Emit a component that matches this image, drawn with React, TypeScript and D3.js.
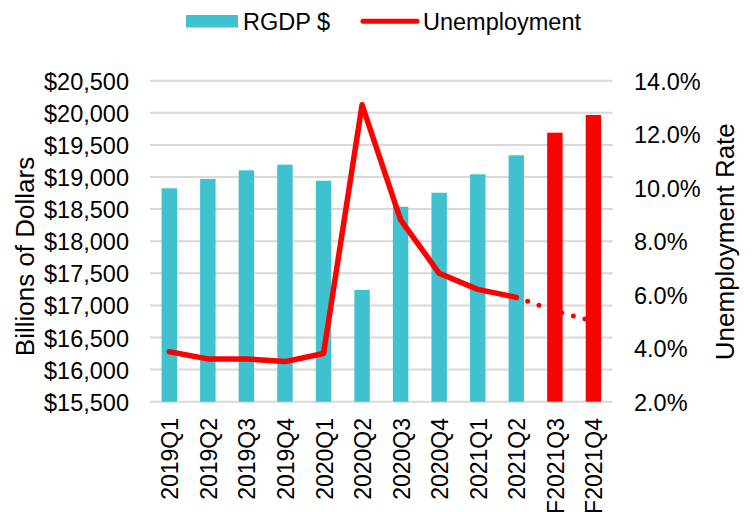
import React from "react";
import * as d3 from "d3";

const categories = ["2019Q1", "2019Q2", "2019Q3", "2019Q4", "2020Q1", "2020Q2", "2020Q3", "2020Q4", "2021Q1", "2021Q2", "F2021Q3", "F2021Q4"];
const rgdp = [18824, 18969, 19104, 19192, 18942, 17240, 18537, 18755, 19042, 19338, 19690, 19966];
const unemployment = [3.87, 3.6, 3.6, 3.5, 3.8, 13.1, 8.8, 6.8, 6.2, 5.9, 5.4, 5.0];
const forecast = [false, false, false, false, false, false, false, false, false, false, true, true];
const leftTicks = [15500, 16000, 16500, 17000, 17500, 18000, 18500, 19000, 19500, 20000, 20500];
const rightTicks = [2, 4, 6, 8, 10, 12, 14];

const W = 754, H = 512;
const plotLeft = 150, plotRight = 612.7, plotTop = 80.7, plotBottom = 401.7;
const FONT = "'Liberation Sans', Arial, sans-serif";
const TEAL = "#40C1D0";
const RED = "#FF0000";
const GRID = "#D9D9D9";

export default function App() {
  const x = d3.scaleBand<string>().domain(categories).range([plotLeft, plotRight]).paddingInner(0.6).paddingOuter(0.3);
  const yL = d3.scaleLinear().domain([15500, 20500]).range([plotBottom, plotTop]);
  const yR = d3.scaleLinear().domain([2, 14]).range([plotBottom, plotTop]);
  const cx = (c: string) => (x(c) as number) + x.bandwidth() / 2;
  const fmtL = (v: number) => "$" + d3.format(",")(v);
  const fmtR = (v: number) => d3.format(".1f")(v) + "%";

  const pts = categories.map((c, i) => [cx(c), yR(unemployment[i])] as [number, number]);
  const line = d3.line();
  const solid = line(pts.slice(0, 10)) as string;
  const dotted = line(pts.slice(9)) as string;

  return (
    <svg width={W} height={H} style={{ position: "absolute", left: 0, top: 0, background: "#fff" }} fontFamily={FONT}>
      {/* gridlines */}
      {leftTicks.map((t) => (
        <line key={t} x1={plotLeft} x2={plotRight} y1={yL(t)} y2={yL(t)} stroke={GRID} strokeWidth={2} />
      ))}
      {/* bars */}
      {categories.map((c, i) => (
        <rect key={c} x={x(c)} y={yL(rgdp[i])} width={x.bandwidth()} height={plotBottom - yL(rgdp[i])} fill={forecast[i] ? RED : TEAL} />
      ))}
      {/* line */}
      <path d={dotted} fill="none" stroke={RED} strokeWidth={5} strokeDasharray="0 12" strokeLinecap="round" />
      <path d={solid} fill="none" stroke={RED} strokeWidth={5.5} strokeLinejoin="round" strokeLinecap="round" />
      {/* left ticks */}
      {leftTicks.map((t) => (
        <text key={t} x={129} y={yL(t) + 1} textAnchor="end" dominantBaseline="central" fontSize={23.5} fill="#000">{fmtL(t)}</text>
      ))}
      {/* right ticks */}
      {rightTicks.map((t) => (
        <text key={t} x={634} y={yR(t) + 1} textAnchor="start" dominantBaseline="central" fontSize={23.5} fill="#000">{fmtR(t)}</text>
      ))}
      {/* x labels */}
      {categories.map((c) => (
        <text key={c} transform={`translate(${cx(c) + 9},${418}) rotate(-90)`} textAnchor="end" fontSize={23} fill="#000">{c}</text>
      ))}
      {/* axis titles */}
      <text transform={`translate(34,256.5) rotate(-90)`} textAnchor="middle" fontSize={26} fill="#000">Billions of Dollars</text>
      <text transform={`translate(734,241.7) rotate(-90)`} textAnchor="middle" fontSize={26} fill="#000">Unemployment Rate</text>
      {/* legend */}
      <rect x={186} y={15} width={52} height={12.5} fill={TEAL} />
      <text x={243} y={30} fontSize={23.5} fill="#000">RGDP $</text>
      <line x1={363} x2={417} y1={21.3} y2={21.3} stroke={RED} strokeWidth={5} strokeLinecap="round" />
      <text x={423} y={30} fontSize={23.5} fill="#000">Unemployment</text>
    </svg>
  );
}
